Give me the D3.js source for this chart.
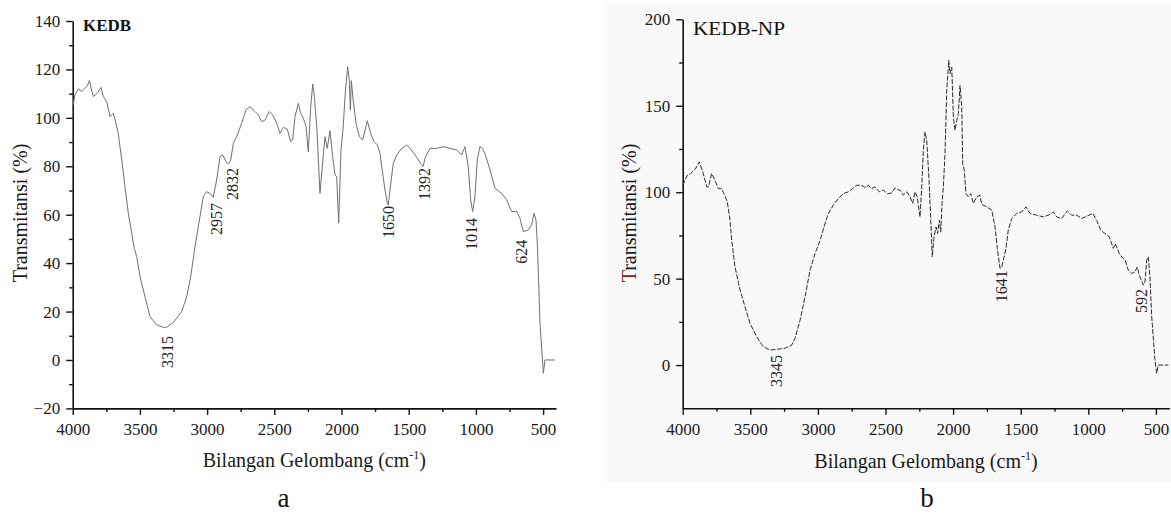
<!DOCTYPE html>
<html><head><meta charset="utf-8">
<script src="https://cdn.jsdelivr.net/npm/d3@7"></script>
<style>
body{margin:0;background:#fff;}
svg{display:block;}
text{font-family:"Liberation Serif","Times New Roman",serif;}
</style>
</head><body>
<svg id="chart" width="1171" height="515"></svg>
<script>
// ---------- Data: panel a (KEDB) ----------
const kedbWave = [4000,3983,3958,3933,3891,3876,3847,3817,3789,3772,3747,3722,3698,3678,3661,3635,3611,3586,3561,3542,3524,3499,3462,3425,3375,3326,3301,3252,3189,3152,3122,3090,3053,3028,3003,2978,2954,2929,2904,2884,2859,2842,2824,2805,2775,2743,2711,2681,2644,2619,2594,2569,2537,2512,2482,2458,2433,2403,2378,2363,2346,2321,2304,2284,2264,2247,2229,2214,2202,2184,2160,2143,2123,2106,2086,2066,2048,2036,2021,2004,1987,1972,1954,1942,1934,1927,1912,1892,1867,1842,1808,1783,1758,1733,1713,1701,1676,1659,1652,1639,1615,1589,1552,1515,1490,1453,1428,1403,1392,1379,1341,1292,1242,1193,1143,1106,1081,1057,1039,1024,1007,990,970,950,925,895,858,808,771,734,696,672,647,610,585,568,553,543,523,498,486,412];
const kedbT = [104.6,109.5,112,110.9,113.2,115.4,108.8,110.2,112.6,108.8,106.7,100.5,101.9,97.8,93.6,82.6,71.6,60.6,52.3,46.1,42.7,34.4,26.1,17.9,14.5,13.5,13.5,15.4,20,26.1,34.4,46.8,59.2,67.5,69.5,68.8,67.2,74.3,84,84.7,81.9,81,82.6,89.5,92.9,97.8,103.3,104.6,102.6,101.2,98.4,99.1,102.6,101.2,97.8,93.6,96.1,95.3,90.2,90.9,100.5,106,101.9,99.8,96.4,86,104.6,114,108.8,96.4,68.8,79.8,92.2,87.4,94.7,84,76.4,75.7,56.5,86.7,96.4,110.2,121.1,115.7,103.3,115.4,106.7,97.8,92.2,90.9,98.8,93.6,90.2,88.8,85.3,79.8,70.2,64.7,64,70.2,81.2,84.7,87.4,88.8,87.4,84.7,82.6,80.5,80,83.3,87.4,87.4,88.1,87.4,86.7,84.7,88.1,79.8,66.1,61.3,67.5,82.6,88.1,87.4,84,78.5,70.9,68.8,66.1,61.3,61.3,58.5,53,53.7,55.8,60.6,57.8,48.2,15.2,-5.5,0,0];
const kedbPeakText = ["3315","2957","2832","1650","1392","1014","624"];
const kedbPeakWave = [3295,2934,2811,1650,1386,1036,664];
const kedbPeakT = [-3.3,51.6,66.1,50.4,66.1,45.4,39.7];
const kedbYTicks = [-20,0,20,40,60,80,100,120,140];
const kedbYMinor = [-10,10,30,50,70,90,110,130];

// ---------- Data: panel b (KEDB-NP) ----------
const npWave = [4000,3966,3941,3909,3877,3848,3822,3810,3786,3761,3737,3712,3695,3670,3650,3638,3613,3576,3539,3502,3453,3404,3354,3305,3243,3194,3169,3132,3095,3058,3021,2984,2955,2923,2886,2849,2812,2775,2743,2713,2676,2652,2627,2602,2578,2546,2516,2487,2454,2430,2405,2393,2368,2343,2319,2299,2282,2265,2245,2232,2220,2208,2195,2178,2166,2154,2141,2126,2114,2102,2091,2082,2072,2060,2047,2032,2023,2010,1998,1986,1973,1961,1949,1936,1929,1917,1905,1887,1870,1850,1825,1801,1789,1751,1714,1690,1673,1653,1640,1609,1592,1567,1530,1493,1461,1431,1382,1333,1296,1259,1234,1197,1155,1123,1086,1049,1012,967,938,908,877,845,815,802,765,728,704,679,655,638,623,593,581,568,556,544,531,507,494,482,408];
const npT = [104,109.8,110.8,113.1,117.5,110.8,103.1,103,110.8,106.9,102.1,102,99.2,94.4,83.8,72.3,56.8,43.4,33.7,24.1,16.4,10.6,8.7,9.1,9.7,11.6,15.4,26,39.5,54.9,64.6,72,79.9,87.7,92.5,96.3,99.2,100.2,102.1,104,104,102.7,104,102,103.1,100.2,101.2,99.2,99.5,102.5,101.4,101.2,98.3,100.2,97.3,93.5,100.2,97.3,85.7,103.1,124.3,134.9,130,106.9,85.7,62.6,74.2,79.9,76.1,83.8,77.1,93.5,103.1,122.4,159,176.3,168.6,172.4,143.5,135.8,141.6,145.5,161.8,149.3,116.6,112.7,99.2,97.3,99.2,93.5,97.3,98.3,93,91.5,89.6,79.9,67.5,55.9,56.8,67.5,78,84.8,87.7,88.6,91.5,87.7,86.7,85.7,86.7,88.6,85.7,84.8,89.2,86.7,86.7,84.8,86.1,87.7,83.8,78,76.1,74.2,67.5,70.3,63.6,60.7,54.9,53,53.9,56.8,52,46.2,48.2,60.7,62.6,51,27.9,2.9,-4.8,0,0];
const npPeakText = ["3345","1641","592"];
const npPeakWave = [3306,1642,610];
const npPeakT = [-12.7,36.4,30.1];
const npYTicks = [0,50,100,150,200];
const npYMinor = [25,75,125,175];

// ---------- Shared tick labels ----------
const xTicks = [4000,3500,3000,2500,2000,1500,1000,500];
const xMinor = [3750,3250,2750,2250,1750,1250,750];
const yTitle = "Transmitansi (%)";
const panelLetters = ["a","b"];

const svg = d3.select("#chart");

// very light textured background of panel b
svg.append("rect").attr("x",605).attr("y",3).attr("width",566).attr("height",479).attr("fill","#f9f9f9");

function panel(cfg){
  const x = d3.scaleLinear().domain(cfg.xDomain).range(cfg.xRange);
  const y = d3.scaleLinear().domain(cfg.yDomain).range(cfg.yRange);
  const g = svg.append("g");
  const x0 = cfg.xRange[0], yb = cfg.yRange[0];

  // minor ticks
  g.append("g").attr("transform",`translate(0,${yb})`)
    .call(d3.axisBottom(x).tickValues(xMinor).tickSize(3.5).tickSizeOuter(0).tickFormat(""))
    .call(s=>s.select(".domain").remove());
  g.append("g").attr("transform",`translate(${x0},0)`)
    .call(d3.axisLeft(y).tickValues(cfg.yMinor).tickSize(3.5).tickSizeOuter(0).tickFormat(""))
    .call(s=>s.select(".domain").remove());

  // major axes
  g.append("g").attr("transform",`translate(0,${yb})`)
    .call(d3.axisBottom(x).tickValues(xTicks).tickSize(6.5).tickSizeOuter(0).tickPadding(8).tickFormat(d3.format("d")));
  g.append("g").attr("transform",`translate(${x0},0)`)
    .call(d3.axisLeft(y).tickValues(cfg.yTicks).tickSize(6.5).tickSizeOuter(0).tickPadding(6).tickFormat(d3.format("d")));
  g.selectAll(".tick line").attr("stroke","#111").attr("stroke-width",1.4);
  g.selectAll(".domain").attr("stroke","#111").attr("stroke-width",1.6);
  g.selectAll(".tick text").attr("font-family","Liberation Serif, serif").attr("font-size",17).attr("fill","#1a1a1a");

  // spectrum
  const line = d3.line().x((d,i)=>x(cfg.wave[i])).y((d,i)=>y(cfg.t[i]));
  g.append("path").datum(cfg.t).attr("d",line)
    .attr("fill","none").attr("stroke",cfg.stroke).attr("stroke-width",cfg.sw)
    .attr("stroke-dasharray",cfg.dash||null).attr("stroke-linejoin","round");

  // peak labels
  cfg.peakText.forEach((tx,i)=>{
    g.append("text")
      .attr("transform",`translate(${x(cfg.peakWave[i])},${y(cfg.peakT[i])}) rotate(-90)`)
      .attr("dy","0.35em").attr("font-size",16).attr("fill","#222").text(tx);
  });

  // sample name
  g.append("text").attr("x",cfg.nameX).attr("y",cfg.nameY).attr("font-size",cfg.nameSize)
    .attr("font-weight",cfg.nameWeight).attr("fill","#111")
    .attr("textLength",cfg.nameLen).attr("lengthAdjust","spacingAndGlyphs").text(cfg.name);

  // axis titles
  const xt = g.append("text").attr("x",(cfg.xRange[0]+cfg.xRange[1])/2).attr("y",cfg.xTitleY)
    .attr("text-anchor","middle").attr("font-size",20).attr("fill","#1a1a1a");
  xt.append("tspan").text("Bilangan Gelombang (cm");
  xt.append("tspan").attr("font-size",12).attr("dy",-8).text("-1");
  xt.append("tspan").attr("dy",8).text(")");

  const yt = g.append("text").attr("transform",`translate(${cfg.yTitleX},213) rotate(-90)`)
    .attr("text-anchor","middle").attr("dy","0.35em").attr("font-size",20).attr("fill","#1a1a1a");
  yt.append("tspan").attr("fill",cfg.tColor).text(yTitle.slice(0,1));
  yt.append("tspan").text(yTitle.slice(1));

  // panel letter
  svg.append("text").attr("x",cfg.letterX).attr("y",507).attr("text-anchor","middle")
    .attr("font-size",27).attr("fill","#111").text(cfg.letter);
}

panel({xDomain:[4000,404], xRange:[72.7,556], yDomain:[-20,140], yRange:[408.4,21],
  yTicks:kedbYTicks, yMinor:kedbYMinor, wave:kedbWave, t:kedbT, stroke:"#707070", sw:1,
  peakText:kedbPeakText, peakWave:kedbPeakWave, peakT:kedbPeakT,
  name:"KEDB", nameX:83, nameY:31, nameSize:16, nameWeight:"bold", nameLen:48,
  xTitleY:467, yTitleX:20, tColor:"#1a1a1a", letter:panelLetters[0], letterX:283.5});

panel({xDomain:[4000,401], xRange:[682.7,1169.3], yDomain:[-25,200], yRange:[408.3,19.3],
  yTicks:npYTicks, yMinor:npYMinor, wave:npWave, t:npT, stroke:"#2a2a2a", sw:1, dash:"5,1.6",
  peakText:npPeakText, peakWave:npPeakWave, peakT:npPeakT,
  name:"KEDB-NP", nameX:693, nameY:35, nameSize:18, nameWeight:"normal", nameLen:92,
  xTitleY:468, yTitleX:629, tColor:"#7a2020", letter:panelLetters[1], letterX:927});
</script>
</body></html>
